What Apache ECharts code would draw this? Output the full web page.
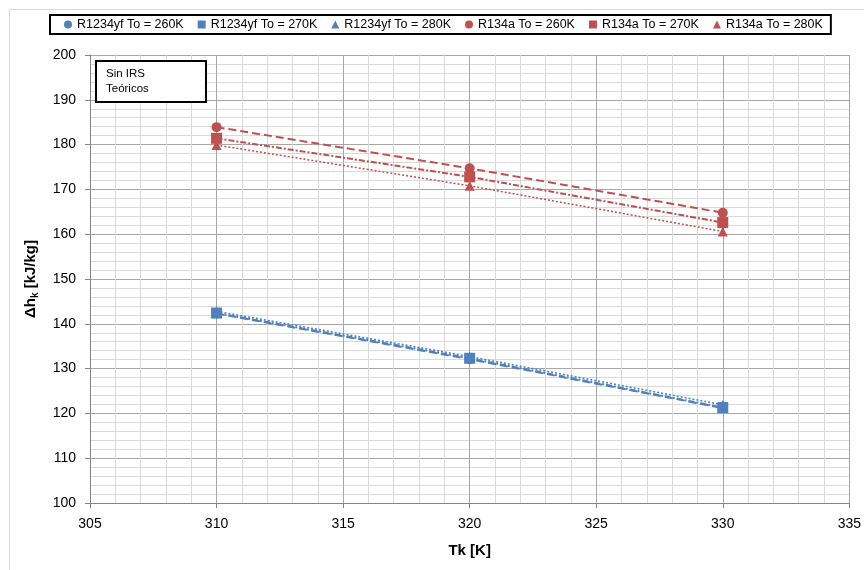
<!DOCTYPE html>
<html>
<head>
<meta charset="utf-8">
<script src="https://cdn.jsdelivr.net/npm/echarts@6/dist/echarts.min.js"></script>
<style>
html,body{margin:0;padding:0;background:#fff;}
#main{width:864px;height:570px;}
</style>
</head>
<body>
<div id="main"></div>
<script>
// Data
var tk = [310, 320, 330];
var r1234yf_260 = [142.3, 132.1, 121.2];
var r1234yf_270 = [142.4, 132.3, 121.3];
var r1234yf_280 = [142.8, 132.7, 121.9];
var r134a_260 = [183.9, 174.7, 164.8];
var r134a_270 = [181.4, 172.8, 162.6];
var r134a_280 = [179.9, 170.8, 160.6];
var seriesNames = ['R1234yf To = 260K','R1234yf To = 270K','R1234yf To = 280K','R134a To = 260K','R134a To = 270K','R134a To = 280K'];
var xTicks = [305, 310, 315, 320, 325, 330, 335];
var yTicks = [100, 110, 120, 130, 140, 150, 160, 170, 180, 190, 200];

var BLUE = '#4F81BD', RED = '#C0504D';
var FONT = 'Liberation Sans';

function pts(arr){ return tk.map(function(x,i){ return [x, arr[i]]; }); }

var defs = [
  {d: r1234yf_260, c: BLUE, sym: 'circle', size: 10, dash: [8,4], w: 2},
  {d: r1234yf_270, c: BLUE, sym: 'rect', size: 11, dash: [6,2,2,2], w: 2},
  {d: r1234yf_280, c: BLUE, sym: 'triangle', size: 10, dash: [2,2], w: 1.5},
  {d: r134a_260, c: RED, sym: 'circle', size: 10, dash: [8,4], w: 2},
  {d: r134a_270, c: RED, sym: 'rect', size: 11, dash: [6,2,2,2], w: 2},
  {d: r134a_280, c: RED, sym: 'triangle', size: 10, dash: [2,2], w: 1.5}
];

var series = defs.map(function(s, i){
  return {
    name: seriesNames[i], type: 'line', data: pts(s.d),
    symbol: s.sym, symbolSize: s.size, showSymbol: true,
    itemStyle: {color: s.c},
    lineStyle: {color: s.c, width: s.w, type: s.dash},
    animation: false
  };
});

var chart = echarts.init(document.getElementById('main'));
chart.setOption({
  backgroundColor: '#fff',
  animation: false,
  textStyle: {fontFamily: FONT},
  legend: {
    left: 50, top: 15,
    data: seriesNames.map(function(n,i){ return {name: n, icon: defs[i].sym}; }),
    itemWidth: 8, itemHeight: 8, itemGap: 14,
    borderColor: '#000', borderWidth: 2,
    padding: [3, 8, 3, 14],
    textStyle: {fontSize: 12.5, color: '#000', fontFamily: FONT}
  },
  grid: {left: 90, right: 14, top: 55, bottom: 67},
  xAxis: {
    type: 'value', min: 305, max: 335, interval: 5,
    name: 'Tk [K]', nameLocation: 'middle', nameGap: 40,
    nameTextStyle: {fontSize: 15, fontWeight: 'bold', color: '#000', fontFamily: FONT},
    axisLine: {show: true, lineStyle: {color: '#868686', width: 1}},
    axisTick: {show: true, length: 5, inside: false, lineStyle: {color: '#868686'}},
    axisLabel: {fontSize: 14, color: '#000', margin: 14, fontFamily: FONT,
      formatter: function(v){ return xTicks.indexOf(v) >= 0 ? String(v) : ''; }},
    splitLine: {show: true, lineStyle: {color: '#a6a6a6', width: 1}},
    minorTick: {show: false, splitNumber: 5},
    minorSplitLine: {show: true, lineStyle: {color: '#d9d9d9', width: 1}}
  },
  yAxis: {
    type: 'value', min: 100, max: 200, interval: 10,
    name: '{a|Δh}{b|k}{a| [kJ/kg]}', nameLocation: 'middle', nameGap: 50, nameRotate: 90,
    nameTextStyle: {
      rich: {
        a: {fontSize: 15, fontWeight: 'bold', color: '#000', fontFamily: FONT},
        b: {fontSize: 10, fontWeight: 'bold', color: '#000', fontFamily: FONT, padding: [8,0,0,0]}
      }
    },
    axisLine: {show: true, lineStyle: {color: '#868686', width: 1}},
    axisTick: {show: true, length: 5, inside: false, lineStyle: {color: '#868686'}},
    axisLabel: {fontSize: 14, color: '#000', margin: 14, fontFamily: FONT,
      formatter: function(v){ return yTicks.indexOf(v) >= 0 ? String(v) : ''; }},
    splitLine: {show: true, lineStyle: {color: '#a6a6a6', width: 1}},
    minorTick: {show: false, splitNumber: 5},
    minorSplitLine: {show: true, lineStyle: {color: '#d9d9d9', width: 1}}
  },
  graphic: [
    {type: 'rect', left: 7, top: 7, shape: {width: 900, height: 600}, style: {fill: 'none', stroke: '#d9d9d9', lineWidth: 1}, z: -10, silent: true},
    {type: 'rect', left: 95, top: 60, shape: {width: 110, height: 41}, style: {fill: '#fff', stroke: '#000', lineWidth: 2}, z: 100},
    {type: 'text', left: 106, top: 66, style: {text: 'Sin IRS\nTeóricos', fontSize: 11.5, lineHeight: 15, fill: '#000', fontFamily: FONT}, z: 101}
  ],
  series: series
});
</script>
</body>
</html>
